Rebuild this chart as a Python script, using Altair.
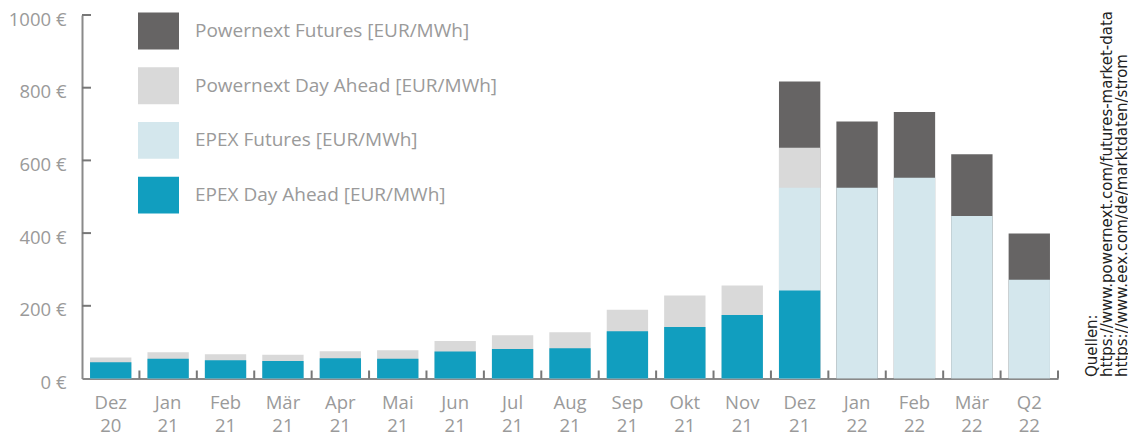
import altair as alt
import pandas as pd

months = ["Dez 20", "Jan 21", "Feb 21", "Mär 21", "Apr 21", "Mai 21", "Jun 21", "Jul 21",
          "Aug 21", "Sep 21", "Okt 21", "Nov 21", "Dez 21", "Jan 22", "Feb 22", "Mär 22", "Q2 22"]
series = ["Powernext Futures [EUR/MWh]", "Powernext Day Ahead [EUR/MWh]",
          "EPEX Futures [EUR/MWh]", "EPEX Day Ahead [EUR/MWh]"]
colors = ["#666464", "#d9d9d9", "#d4e7ed", "#119ebf"]

powernext_futures = [None] * 12 + [817, 707, 733, 617, 399]
powernext_day_ahead = [58, 72, 67, 65, 75, 78, 103, 119, 127, 189, 228, 256, 635,
                       None, None, None, None]
epex_futures = [None] * 12 + [525, 525, 552, 447, 272]
epex_day_ahead = [45, 54, 50, 48, 56, 54, 74, 81, 83, 130, 142, 175, 242,
                  None, None, None, None]

yticks = [0, 200, 400, 600, 800, 1000]
sources = ["Quellen:",
           "https://www.powernext.com/futures-market-data",
           "https://www.eex.com/de/marktdaten/strom"]

rows = []
for idx, (name, vals) in enumerate(zip(series, [powernext_futures, powernext_day_ahead,
                                                 epex_futures, epex_day_ahead])):
    for m, v in zip(months, vals):
        if v is not None:
            rows.append({"month": m, "series": name, "value": v, "idx": idx})
df = pd.DataFrame(rows)

label_color = "#9a9a9a"
axis_color = "#8a8a8a"
font = "Open Sans"

x_enc = alt.X("month:N", sort=months, title=None,
              scale=alt.Scale(paddingInner=0.28, paddingOuter=0.14),
              axis=alt.Axis(labelExpr="split(datum.label, ' ')", labelAngle=0,
                            labelFont=font, labelFontSize=18.5, labelColor=label_color,
                            labelLineHeight=23, labelPadding=14.5, ticks=False,
                            domainColor=axis_color, domainWidth=2, grid=False))

bars = alt.Chart(df).mark_bar().encode(
    x=x_enc,
    y=alt.Y("value:Q", stack=None, title=None,
            scale=alt.Scale(domain=[0, 1000], nice=False),
            axis=alt.Axis(values=yticks, labelExpr="datum.value + ' €'", ticks=False,
                          labelFont=font, labelFontSize=18.5, labelColor=label_color,
                          labelPadding=16, labelOffset=4, domainColor=axis_color,
                          domainWidth=2, grid=False)),
    color=alt.Color("series:N", scale=alt.Scale(domain=series, range=colors),
                    legend=alt.Legend(title=None, orient="none", legendX=56, legendY=-4.5,
                                      symbolType="M-1,-0.9H1V0.9H-1Z", symbolSize=1681,
                                      symbolStrokeWidth=0, symbolOpacity=1,
                                      labelFont=font, labelFontSize=19, labelLimit=0,
                                      labelColor=label_color, labelOffset=16,
                                      rowPadding=15.7)),
    order=alt.Order("idx:Q"),
)

xticks = alt.Chart(pd.DataFrame({"month": months})).mark_rule(
    color="#777777", strokeWidth=2, xOffset=8.04).encode(
    x=alt.X("month:N", sort=months, bandPosition=1),
    y=alt.datum(0), y2=alt.datum(22))

yrules = alt.Chart(pd.DataFrame({"v": yticks[1:]})).mark_rule(
    color="#777777", strokeWidth=2).encode(
    y=alt.Y("v:Q"), x=alt.value(0), x2=alt.value(9))

src = alt.Chart(pd.DataFrame({"a": [0]})).mark_text(
    angle=270, align="left", baseline="alphabetic", font="DejaVu Sans", fontSize=15,
    lineHeight=15.3, color="#222222").encode(
    x=alt.value(1014.5), y=alt.value(362), text=alt.value(sources))

chart = alt.layer(bars, xticks, yrules, src).properties(
    width=976, height=363.5,
    autosize="none",
    padding={"left": 74, "top": 7, "right": 70, "bottom": 55.5},
).configure_view(stroke=None)

chart.save("out.html", embed_options={"renderer": "svg", "actions": False})
